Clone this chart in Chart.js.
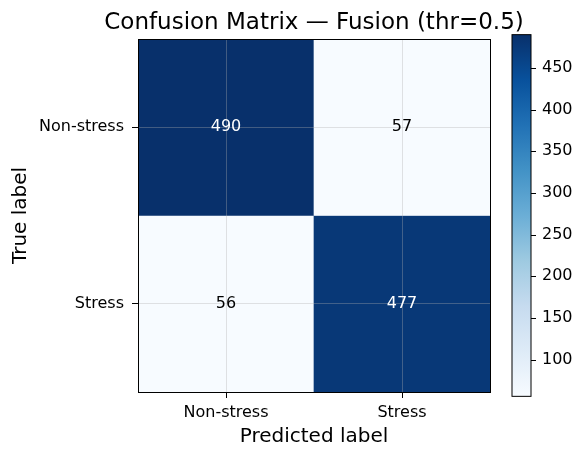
<!DOCTYPE html>
<html>
<head>
<meta charset="utf-8">
<script src="https://cdn.jsdelivr.net/npm/chart.js@4.4.1/dist/chart.umd.min.js"></script>
<style>
  body { margin: 0; background: #fff; }
  #wrap { width: 585px; height: 459px; }
</style>
</head>
<body>
<div id="wrap"><canvas id="cm"></canvas></div>
<script>
const trueLabels = ['Non-stress', 'Stress'];
const predLabels = ['Non-stress', 'Stress'];
const rowNonStress = [490, 57];
const rowStress = [56, 477];
const cbTicks = [100, 150, 200, 250, 300, 350, 400, 450];
const chartTitle = 'Confusion Matrix — Fusion (thr=0.5)';

const rows = [rowNonStress, rowStress];
const allVals = rows.flat();
const vmin = Math.min(...allVals);
const vmax = Math.max(...allVals);
const FONT = "'DejaVu Sans', sans-serif";

// matplotlib "Blues"
const bluesStops = ['#f7fbff', '#deebf7', '#c6dbef', '#9ecae1', '#6baed6',
                    '#4292c6', '#2171b5', '#08519c', '#08306b'];
function hexRgb(h) {
  return [1, 3, 5].map(i => parseInt(h.substr(i, 2), 16));
}
function blues(v) {
  let t = (v - vmin) / (vmax - vmin);
  t = Math.max(0, Math.min(1, t)) * (bluesStops.length - 1);
  const i = Math.min(Math.floor(t), bluesStops.length - 2);
  const f = t - i;
  const a = hexRgb(bluesStops[i]), b = hexRgb(bluesStops[i + 1]);
  const c = a.map((x, k) => Math.round(x + (b[k] - x) * f));
  return `rgb(${c[0]},${c[1]},${c[2]})`;
}

const gridColor = 'rgba(176,176,176,0.35)';

// title, numbers in the cells, colorbar
const cmPlugin = {
  id: 'cmPlugin',
  afterDraw(chart) {
    const ctx = chart.ctx;
    const area = chart.chartArea;
    const xs = chart.scales.x, ys = chart.scales.y;
    ctx.save();
    ctx.fillStyle = '#000';
    ctx.font = '23px ' + FONT;
    ctx.textAlign = 'center';
    ctx.textBaseline = 'middle';
    ctx.fillText(chartTitle, (area.left + area.right) / 2, area.top - 16);

    ctx.font = '16px ' + FONT;
    rows.forEach((row, i) => {
      row.forEach((v, j) => {
        ctx.fillStyle = v > vmax / 2 ? '#ffffff' : '#000000';
        ctx.fillText(String(v), xs.getPixelForValue(j), ys.getPixelForValue(i + 0.5));
      });
    });

    // colorbar
    const cb = chart.scales.cb;
    const top = cb.getPixelForValue(vmax);
    const bot = cb.getPixelForValue(vmin);
    const x0 = cb.left + 22, w = 19;
    const g = ctx.createLinearGradient(0, bot, 0, top);
    bluesStops.forEach((c, k) => g.addColorStop(k / (bluesStops.length - 1), c));
    ctx.fillStyle = g;
    ctx.fillRect(x0, top, w, bot - top);
    ctx.strokeStyle = '#000';
    ctx.lineWidth = 1;
    ctx.strokeRect(x0, top, w, bot - top);
    ctx.beginPath();
    cbTicks.forEach(v => {
      const y = Math.round(cb.getPixelForValue(v)) + 0.5;
      ctx.moveTo(x0 + w, y);
      ctx.lineTo(x0 + w + 5, y);
    });
    ctx.stroke();
    ctx.restore();
  }
};

const datasets = rows.map((row, i) => ({
  label: trueLabels[i],
  data: row.map(() => [i, i + 1]),
  backgroundColor: row.map(blues),
  borderWidth: 0,
  grouped: false,
  barPercentage: 1,
  categoryPercentage: 1
}));

const cbPad = (vmax - vmin) * 0.012;

new Chart(document.getElementById('cm'), {
  type: 'bar',
  data: { labels: predLabels, datasets: datasets },
  options: {
    responsive: true,
    maintainAspectRatio: false,
    animation: false,
    layout: { padding: 0 },
    plugins: {
      legend: { display: false },
      tooltip: { enabled: false }
    },
    scales: {
      x: {
        position: 'bottom',
        offset: true,
        grid: { offset: false, color: gridColor, z: 1, tickColor: '#000', tickLength: 6 },
        border: { display: true, color: '#000', width: 1, z: 2 },
        ticks: { color: '#000', padding: 5, font: { family: FONT, size: 16 } },
        title: {
          display: true, text: 'Predicted label', color: '#000',
          font: { family: FONT, size: 20 }, padding: { top: 0, bottom: 10 }
        },
        afterFit: s => { s.height = 67; }
      },
      x2: {
        type: 'category',
        position: 'top',
        grid: { display: false },
        border: { display: true, color: '#000', width: 1, z: 2 },
        ticks: { display: false },
        afterFit: s => { s.height = 39; }
      },
      y: {
        type: 'linear',
        position: 'left',
        min: 0,
        max: trueLabels.length,
        reverse: true,
        afterBuildTicks: s => { s.ticks = trueLabels.map((_, i) => ({ value: i + 0.5 })); },
        grid: { color: gridColor, z: 1, tickColor: '#000', tickLength: 6 },
        border: { display: true, color: '#000', width: 1, z: 2 },
        ticks: {
          color: '#000', padding: 8, font: { family: FONT, size: 16 },
          callback: (v, i) => trueLabels[i]
        },
        title: {
          display: true, text: 'True label', color: '#000',
          font: { family: FONT, size: 20 }, padding: { top: 9, bottom: 0 }
        },
        afterFit: s => { s.width = 138; }
      },
      cb: {
        type: 'linear',
        position: 'right',
        min: vmin + cbPad,
        max: vmax - cbPad,
        afterBuildTicks: s => { s.ticks = cbTicks.map(v => ({ value: v })); },
        grid: { display: true, drawOnChartArea: false, color: 'rgba(0,0,0,0)', tickLength: 48 },
        border: { display: true, color: '#000', width: 1, z: 2 },
        ticks: { color: '#000', padding: 4, font: { family: FONT, size: 16 } },
        afterFit: s => { s.width = 95; }
      }
    }
  },
  plugins: [cmPlugin]
});
</script>
</body>
</html>
